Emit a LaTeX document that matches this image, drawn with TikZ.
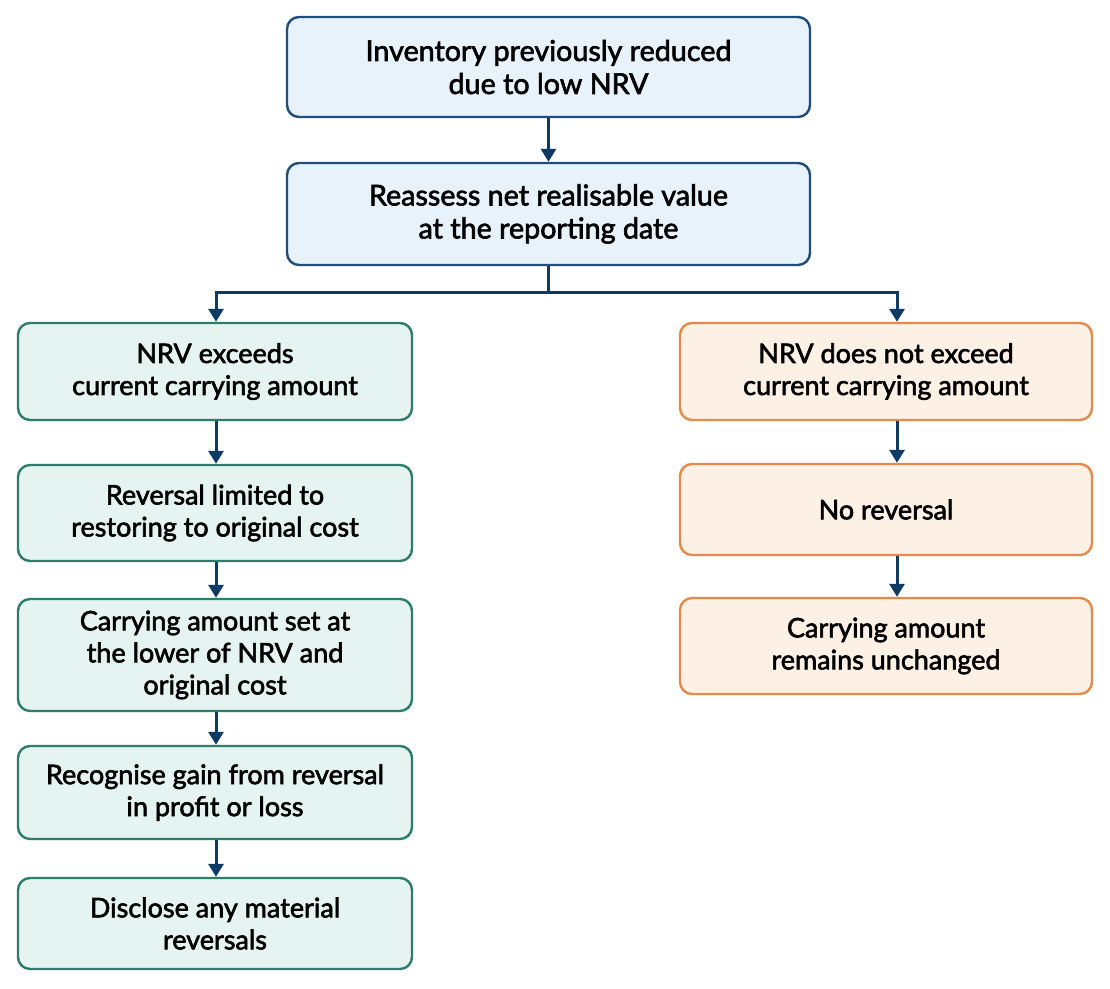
\documentclass[tikz,border=0pt]{standalone}
\usepackage{fontspec}
\setmainfont{Lato}[FakeBold=2.2]
\usetikzlibrary{arrows.meta,calc}
\definecolor{bluefill}{HTML}{E8F2FB}
\definecolor{blueline}{HTML}{1F4E79}
\definecolor{greenfill}{HTML}{E6F4F1}
\definecolor{greenline}{HTML}{2E7D6B}
\definecolor{orangefill}{HTML}{FDF1E5}
\definecolor{orangeline}{HTML}{E38A4D}
\definecolor{arrowcol}{HTML}{0D3B66}
\tikzset{
  box/.style={rectangle, rounded corners=12pt, line width=2.4pt, inner sep=0pt, align=center,
    font=\fontsize{27}{32}\selectfont, text=black},
  bluebox/.style={box, draw=blueline, fill=bluefill, minimum width=523pt, font=\fontsize{28.7}{33}\selectfont},
  greenbox/.style={box, draw=greenline, fill=greenfill, minimum width=394pt},
  orangebox/.style={box, draw=orangeline, fill=orangefill, minimum width=412pt},
  arr/.style={draw=arrowcol, line width=3pt, -{Triangle[width=15pt,length=13pt]}},
  ln/.style={draw=arrowcol, line width=3pt}
}
\begin{document}
\begin{tikzpicture}[x=1pt,y=-1pt]
\useasboundingbox (0,0) rectangle (1110,988);
\fill[white] (0,0) rectangle (1110,988);
\node[bluebox, minimum height=100pt] (t1) at (548.5,67) {Inventory previously reduced\\due to low NRV};
\node[bluebox, minimum height=102pt] (t2) at (548.5,214) {Reassess net realisable value\\at the reporting date};
\node[greenbox, minimum height=97pt] (l1) at (215,371.5) {NRV exceeds\\current carrying amount};
\node[greenbox, minimum height=96pt] (l2) at (215,513) {Reversal limited to\\restoring to original cost};
\node[greenbox, minimum height=112pt] (l3) at (215,655) {Carrying amount set at\\the lower of NRV and\\original cost};
\node[greenbox, minimum height=93pt] (l4) at (215,792.5) {Recognise gain from reversal\\in profit or loss};
\node[greenbox, minimum height=91pt] (l5) at (215,923.5) {Disclose any material\\reversals};
\node[orangebox, minimum height=97pt] (r1) at (886,371.5) {NRV does not exceed\\current carrying amount};
\node[orangebox, minimum height=91pt] (r2) at (886,509.5) {No reversal};
\node[orangebox, minimum height=96pt] (r3) at (886,646) {Carrying amount\\remains unchanged};
\coordinate (rx) at (897,0);
\coordinate (lx) at (216,0);
\coordinate (split) at ($(t2.south)+(0,26)$);
\draw[arr] (t1.south) -- (t2.north);
\draw[ln] (t2.south) -- (split);
\draw[arr] (split) -| (l1.north -| lx);
\draw[arr] (split) -| (r1.north -| rx);
\draw[arr] (l1.south -| lx) -- (l2.north -| lx);
\draw[arr] (l2.south -| lx) -- (l3.north -| lx);
\draw[arr] (l3.south -| lx) -- (l4.north -| lx);
\draw[arr] (l4.south -| lx) -- (l5.north -| lx);
\draw[arr] (r1.south -| rx) -- (r2.north -| rx);
\draw[arr] (r2.south -| rx) -- (r3.north -| rx);
\end{tikzpicture}
\end{document}
